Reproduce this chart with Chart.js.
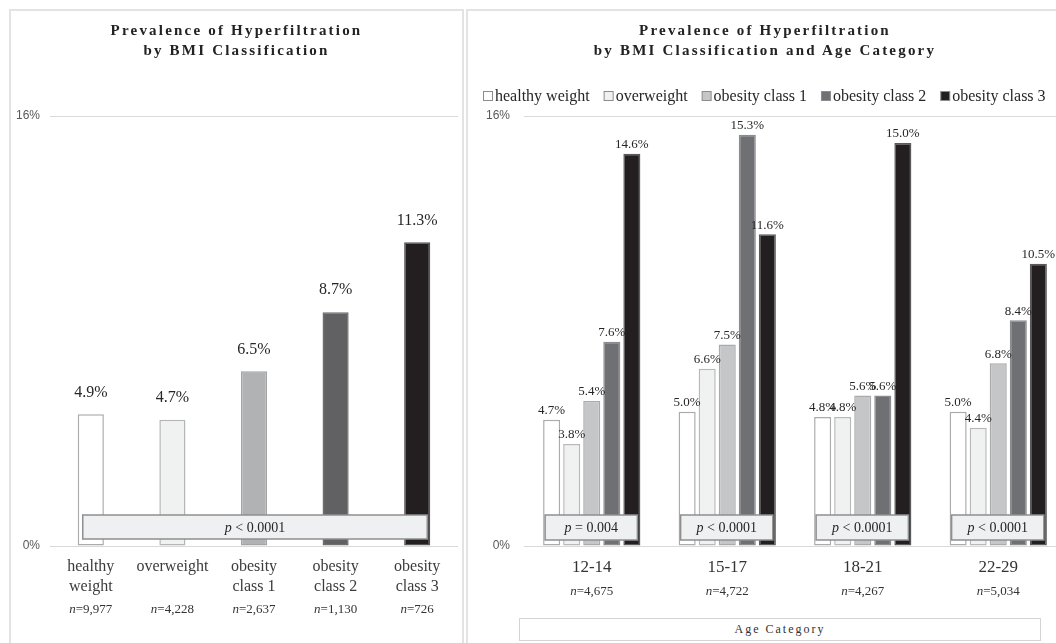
<!DOCTYPE html>
<html><head><meta charset="utf-8">
<script src="https://cdn.jsdelivr.net/npm/chart.js@4.4.1/dist/chart.umd.min.js"></script>
<style>
html,body{margin:0;padding:0;width:1056px;height:643px;overflow:hidden;background:#fff;}
.panel{position:absolute;top:9px;height:700px;border:2px solid #e3e3e3;box-sizing:border-box;}
#pl{left:9px;width:455px;}
#pr{left:466px;width:640px;}
canvas{position:absolute;top:0;}
#c1{left:0;}
#c2{left:466px;}
.title{position:absolute;top:20px;font:bold 15px "Liberation Serif",serif;letter-spacing:2.2px;line-height:20px;text-align:center;color:#222;}
#t1{left:9px;width:455px;}
#t2{left:466px;width:598px;}
#age{position:absolute;left:519px;top:618px;width:522px;height:23px;box-sizing:border-box;border:1.5px solid #d4d4d4;background:#fff;font:12px "Liberation Serif",serif;letter-spacing:2px;color:#333;text-align:center;line-height:20px;}
</style></head><body>
<div class="panel" id="pl"></div>
<div class="panel" id="pr"></div>
<canvas id="c1" width="466" height="643"></canvas>
<canvas id="c2" width="600" height="643"></canvas>
<div class="title" id="t1">Prevalence of Hyperfiltration<br>by BMI Classification</div>
<div class="title" id="t2">Prevalence of Hyperfiltration<br>by BMI Classification and Age Category</div>
<div id="age">Age Category</div>
<script>
// ---- data ----
const bmiCategories = [["healthy","weight"], "overweight", ["obesity","class 1"], ["obesity","class 2"], ["obesity","class 3"]];
const bmiPrevalence = [4.9, 4.7, 6.5, 8.7, 11.3];
const bmiN = ["9,977", "4,228", "2,637", "1,130", "726"];
const bmiP = "< 0.0001";

const ageCategories = ["12-14", "15-17", "18-21", "22-29"];
const ageSeriesNames = ["healthy weight", "overweight", "obesity class 1", "obesity class 2", "obesity class 3"];
const ageHealthy = [4.7, 5.0, 4.8, 5.0];
const ageOverweight = [3.8, 6.6, 4.8, 4.4];
const ageObesity1 = [5.4, 7.5, 5.6, 6.8];
const ageObesity2 = [7.6, 15.3, 5.6, 8.4];
const ageObesity3 = [14.6, 11.6, 15.0, 10.5];
const ageN = ["4,675", "4,722", "4,267", "5,034"];
const ageP = ["= 0.004", "< 0.0001", "< 0.0001", "< 0.0001"];

const yTickValues = [0, 16];

// ---- styles ----
const SERIF = '"Liberation Serif", "Times New Roman", serif';
const SANS = '"Liberation Sans", Arial, sans-serif';
const leftFills = ['#ffffff', '#f0f1f1', '#b1b2b4', '#616163', '#231f20'];
const leftBorders = ['#ababab', '#b5b5b5', '#a2a3a5', '#6d6d6f', '#555555'];
const rightFills = ['#ffffff', '#f0f1f1', '#c5c6c8', '#6f7074', '#231f20'];
const rightBorders = ['#ababab', '#b8b8b8', '#a9aaac', '#8a8b8e', '#5a5a5a'];

function drawMixed(ctx, italicPart, rest, cx, cy, size) {
  ctx.save();
  ctx.textBaseline = 'middle';
  ctx.font = 'italic ' + size + 'px ' + SERIF;
  const w1 = ctx.measureText(italicPart).width;
  ctx.font = size + 'px ' + SERIF;
  const w2 = ctx.measureText(rest).width;
  let x = cx - (w1 + w2) / 2;
  ctx.textAlign = 'left';
  ctx.font = 'italic ' + size + 'px ' + SERIF;
  ctx.fillText(italicPart, x, cy);
  ctx.font = size + 'px ' + SERIF;
  ctx.fillText(rest, x + w1, cy);
  ctx.restore();
}

const annot = {
  id: 'annot',
  afterDatasetsDraw(chart, args, o) {
    const ctx = chart.ctx;
    const metas = chart.data.datasets.map((d, i) => chart.getDatasetMeta(i));
    // value labels
    ctx.save();
    ctx.font = o.valueSize + 'px ' + SERIF;
    ctx.fillStyle = '#262626';
    ctx.textAlign = 'center';
    ctx.textBaseline = 'middle';
    metas.forEach((m, i) => m.data.forEach((el, j) => {
      const v = chart.data.datasets[i].data[j];
      ctx.fillText(v.toFixed(1) + '%', el.x, el.y - o.valueOffset);
    }));
    ctx.restore();
    // p boxes
    const boxes = o.boxes(metas);
    boxes.forEach(b => {
      const x0 = b.first.x - b.first.width / 2 + o.insetL;
      const x1 = b.last.x + b.last.width / 2 - o.insetR;
      ctx.save();
      ctx.fillStyle = '#eef0f1';
      ctx.strokeStyle = '#8f8f8f';
      ctx.lineWidth = 1.5;
      ctx.fillRect(x0, o.boxTop, x1 - x0, o.boxH);
      ctx.strokeRect(x0, o.boxTop, x1 - x0, o.boxH);
      ctx.fillStyle = '#262626';
      drawMixed(ctx, 'p', ' ' + b.text, (x0 + x1) / 2, o.boxTop + o.boxH / 2 + 1, 14);
      ctx.restore();
    });
  },
  afterDraw(chart, args, o) {
    const ctx = chart.ctx;
    const xs = chart.scales.x;
    ctx.save();
    ctx.fillStyle = '#333';
    o.nValues.forEach((n, j) => {
      drawMixed(ctx, 'n', '=' + n, xs.getPixelForValue(j), o.nY, 13);
    });
    ctx.restore();
    if (o.legend) {
      ctx.save();
      ctx.font = '16px ' + SERIF;
      ctx.textBaseline = 'middle';
      ctx.textAlign = 'left';
      let x = o.legend.x;
      const y = o.legend.y;
      chart.data.datasets.forEach(ds => {
        ctx.fillStyle = ds.backgroundColor;
        ctx.strokeStyle = '#8c8c8c';
        ctx.lineWidth = 1;
        ctx.fillRect(x + 0.5, y - 4.5, 9, 9);
        ctx.strokeRect(x + 0.5, y - 4.5, 9, 9);
        ctx.fillStyle = '#262626';
        ctx.fillText(ds.label, x + 12, y + 1);
        x += 12 + ctx.measureText(ds.label).width + o.legend.gap;
      });
      ctx.restore();
    }
  }
};

function yAxis(width, pad) {
  return {
    min: 0, max: 16,
    afterBuildTicks(s) { s.ticks = yTickValues.map(v => ({ value: v })); },
    grid: { color: '#d9d9d9', drawTicks: false, lineWidth: 1 },
    border: { display: false },
    ticks: { callback: v => v + '%', font: { family: SANS, size: 12 }, color: '#595959', padding: pad },
    afterFit(s) { s.width = width; }
  };
}

new Chart(document.getElementById('c1'), {
  type: 'bar',
  data: {
    labels: bmiCategories,
    datasets: [{
      label: 'Prevalence',
      data: bmiPrevalence,
      backgroundColor: leftFills,
      borderColor: leftBorders,
      borderWidth: 1.5,
      borderSkipped: false,
      barPercentage: 0.32,
      categoryPercentage: 1
    }]
  },
  options: {
    responsive: false, animation: false, events: [],
    layout: { padding: { top: 116, right: 8, left: 0, bottom: 0 } },
    plugins: {
      legend: { display: false }, tooltip: { enabled: false },
      annot: {
        valueSize: 16, valueOffset: 22,
        boxes: metas => [{ first: metas[0].data[0], last: metas[0].data[4], text: bmiP }],
        insetL: 5, insetR: 3, boxTop: 515, boxH: 24,
        nValues: bmiN, nY: 610
      }
    },
    scales: {
      x: {
        grid: { display: false, drawTicks: false }, border: { display: false },
        ticks: { font: { family: SERIF, size: 16, lineHeight: 1.25 }, color: '#3b3b3b', padding: 11, maxRotation: 0, autoSkip: false },
        afterFit(s) { s.height = 97; }
      },
      y: yAxis(50, 10)
    }
  },
  plugins: [annot]
});

const ageSeries = [ageHealthy, ageOverweight, ageObesity1, ageObesity2, ageObesity3];
new Chart(document.getElementById('c2'), {
  type: 'bar',
  data: {
    labels: ageCategories,
    datasets: ageSeries.map((d, i) => ({
      label: ageSeriesNames[i],
      data: d,
      backgroundColor: rightFills[i],
      borderColor: rightBorders[i],
      borderWidth: 1.5,
      borderSkipped: false,
      barPercentage: 0.85,
      categoryPercentage: 0.74
    }))
  },
  options: {
    responsive: false, animation: false, events: [],
    layout: { padding: { top: 116, right: 0, left: 0, bottom: 0 } },
    plugins: {
      legend: { display: false }, tooltip: { enabled: false },
      annot: {
        valueSize: 13, valueOffset: 9,
        boxes: metas => ageCategories.map((c, j) => ({ first: metas[0].data[j], last: metas[4].data[j], text: ageP[j] })),
        insetL: 2, insetR: 3, boxTop: 515, boxH: 25,
        nValues: ageN, nY: 592,
        legend: { x: 17, y: 96, gap: 14 }
      }
    },
    scales: {
      x: {
        grid: { display: false, drawTicks: false }, border: { display: false },
        ticks: { font: { family: SERIF, size: 17, lineHeight: 1.2 }, color: '#333', padding: 11, maxRotation: 0, autoSkip: false },
        afterFit(s) { s.height = 97; }
      },
      y: yAxis(58, 14)
    }
  },
  plugins: [annot]
});
</script>
</body></html>
